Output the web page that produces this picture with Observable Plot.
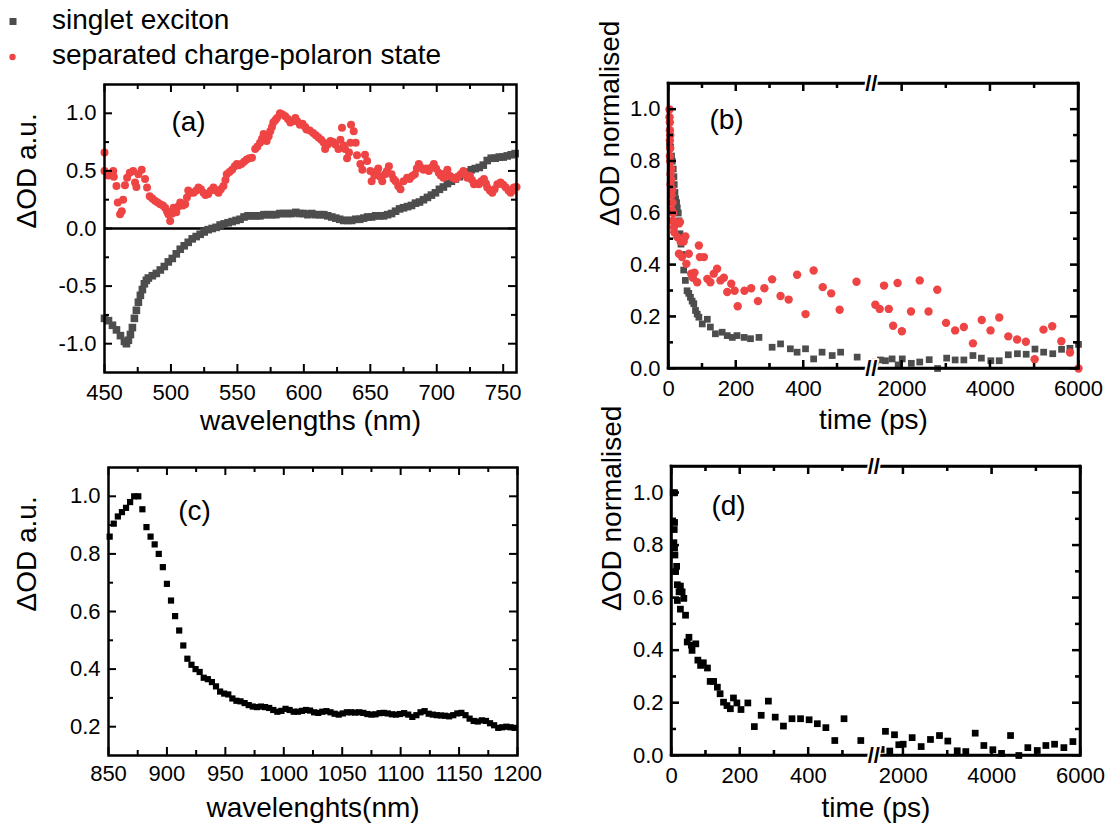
<!DOCTYPE html>
<html><head><meta charset="utf-8">
<script src="https://cdn.jsdelivr.net/npm/d3@7"></script>
<script src="https://cdn.jsdelivr.net/npm/@observablehq/plot@0.6"></script>
<style>
body{margin:0;background:#fff;font-family:"Liberation Sans",Arial,sans-serif;}
#fig{position:relative;width:1110px;height:825px;overflow:hidden;background:#fff;}
#legend{position:absolute;left:0;top:0;z-index:5;}
</style></head><body><div id="fig"></div>
<script>
// ---------- DATA ----------
// (a) singlet exciton spectrum [wavelength nm, ΔOD]
const excitonA = [[450,-0.78],[453,-0.80],[456,-0.84],[459,-0.88],[462,-0.93],[465,-0.98],[466.5,-1.0],[468,-0.97],[469.5,-0.92],[471,-0.86],[472.5,-0.78],[474,-0.71],[475.5,-0.64],[477,-0.58],[478.5,-0.53],[480,-0.48],[481.5,-0.45],[483,-0.43],[486,-0.41],[489,-0.39],[492,-0.36],[495,-0.33],[498,-0.29],[501,-0.26],[504,-0.22],[507,-0.18],[510,-0.15],[513,-0.12],[516,-0.09],[519,-0.07],[522,-0.05],[525,-0.03],[528,-0.01],[531,0.00],[534,0.01],[537,0.03],[540,0.04],[543,0.05],[546,0.06],[549,0.07],[552,0.08],[555,0.10],[558,0.11],[561,0.11],[564,0.11],[567,0.11],[570,0.12],[573,0.12],[576,0.12],[579,0.12],[582,0.13],[585,0.13],[588,0.13],[591,0.13],[594,0.14],[597,0.13],[600,0.13],[603,0.12],[606,0.13],[609,0.12],[612,0.12],[615,0.12],[618,0.11],[621,0.10],[624,0.09],[627,0.08],[630,0.07],[633,0.07],[636,0.07],[639,0.08],[642,0.08],[645,0.09],[648,0.10],[651,0.10],[654,0.11],[657,0.11],[660,0.11],[663,0.12],[666,0.13],[669,0.15],[672,0.17],[675,0.18],[678,0.19],[681,0.20],[684,0.22],[687,0.23],[690,0.25],[693,0.27],[696,0.29],[699,0.31],[702,0.34],[705,0.36],[708,0.39],[711,0.41],[714,0.43],[717,0.45],[720,0.47],[723,0.49],[726,0.51],[729,0.52],[732,0.53],[735,0.55],[738,0.59],[741,0.61],[744,0.61],[747,0.62],[750,0.62],[753,0.63],[756,0.64],[759,0.65]];

// (a) separated charge-polaron state spectrum
const polaronA = [[450,0.66],[450,0.50],[453,0.46],[455,0.48],[456.6,0.50],[457,0.45],[459,0.37],[460,0.225],[461.7,0.124],[463,0.15],[464,0.25],[465.4,0.375],[467,0.44],[469,0.485],[471.6,0.50],[473,0.40],[474,0.36],[475.5,0.47],[478,0.51],[480.5,0.43],[482,0.355],[484,0.28],[486,0.26],[488,0.24],[490,0.225],[492,0.21],[494,0.20],[495.6,0.18],[497,0.15],[498,0.124],[499.4,0.066],[501,0.13],[502,0.18],[504,0.14],[505.5,0.19],[507,0.225],[509,0.20],[510.7,0.21],[512,0.27],[513,0.33],[515,0.31],[517,0.31],[519,0.33],[520.7,0.355],[522.5,0.34],[524.5,0.31],[526,0.29],[528,0.30],[530,0.33],[532,0.355],[534,0.33],[535.8,0.31],[537.5,0.34],[539.5,0.37],[541,0.42],[542,0.47],[544,0.49],[546,0.51],[548,0.54],[549.6,0.56],[551,0.55],[553,0.56],[555,0.58],[557,0.60],[559,0.61],[561,0.615],[563.4,0.69],[565,0.71],[567,0.745],[568.5,0.78],[569.7,0.82],[571,0.79],[572,0.76],[573.5,0.80],[574.7,0.845],[576,0.88],[577,0.92],[578.5,0.94],[579.8,0.96],[582,1.0],[584,0.99],[586,0.975],[588,0.95],[589.8,0.92],[591.5,0.93],[593.6,0.96],[595,0.93],[597,0.90],[599,0.91],[601,0.88],[602,0.86],[604.5,0.85],[607,0.83],[609,0.81],[611,0.79],[613,0.77],[615,0.745],[616,0.69],[618,0.73],[620,0.76],[622,0.75],[623.7,0.73],[626,0.69],[627.5,0.77],[628.7,0.875],[630,0.72],[631,0.69],[632.5,0.61],[634,0.66],[635,0.745],[635.5,0.90],[637.5,0.845],[639,0.745],[640,0.635],[642.5,0.56],[644,0.51],[646,0.64],[647.6,0.585],[650,0.50],[651,0.41],[653,0.46],[655,0.50],[656,0.52],[657.5,0.45],[659,0.41],[661,0.47],[662.5,0.50],[664,0.54],[666,0.47],[667.5,0.43],[669,0.41],[671,0.37],[672.7,0.34],[675,0.41],[677.7,0.44],[679.5,0.43],[681.5,0.455],[683.5,0.47],[685,0.52],[686.5,0.56],[688,0.53],[690,0.51],[692,0.52],[694,0.50],[696,0.53],[697.8,0.56],[699.5,0.52],[701.5,0.485],[703,0.46],[705,0.44],[706.5,0.48],[708,0.51],[710,0.455],[712,0.44],[714,0.43],[716,0.45],[718,0.47],[720,0.50],[721.5,0.47],[723,0.44],[725,0.455],[726.5,0.42],[728,0.385],[730,0.39],[731.7,0.385],[733.5,0.41],[735.5,0.43],[737,0.39],[738,0.355],[740,0.33],[741.8,0.31],[743.5,0.34],[745.6,0.385],[748,0.40],[750,0.38],[752,0.355],[754,0.33],[755.6,0.31],[757,0.33],[758,0.355],[760,0.36]];

// (b) kinetics [time ps, ΔOD normalised]
const excitonB = [[3,0.87],[6,0.855],[9,0.82],[11,0.80],[14,0.77],[16,0.74],[17,0.71],[19,0.68],[21,0.655],[24,0.64],[26,0.62],[29,0.60],[31,0.57],[34,0.52],[37,0.48],[40,0.44],[45,0.38],[50,0.34],[55,0.30],[60,0.29],[65,0.275],[70,0.26],[75,0.25],[80,0.224],[85,0.21],[90,0.198],[100,0.172],[115,0.19],[124,0.16],[139,0.134],[159,0.14],[174,0.127],[189,0.12],[203,0.127],[224,0.12],[243,0.115],[268,0.12],[307,0.082],[332,0.095],[361,0.076],[381,0.063],[406,0.076],[430,0.037],[455,0.063],[485,0.05],[510,0.063],[559,0.044],[1398,0.025],[1513,0.033],[1627,0.03],[1778,0.037],[1915,0.014],[2008,0.037],[2213,0.02],[2404,0.025],[2618,0.034],[2808,0.0],[3014,0.04],[3206,0.033],[3403,0.033],[3609,0.05],[3800,0.04],[4014,0.03],[4204,0.03],[4410,0.053],[4616,0.057],[4815,0.055],[5014,0.075],[5211,0.063],[5417,0.057],[5616,0.074],[5806,0.078],[6000,0.093]];
const polaronB = [[3,1.0],[3,0.97],[4,0.95],[4,0.92],[5,0.90],[4,0.88],[5,0.85],[4,0.82],[5,0.80],[8,0.77],[6,0.75],[8,0.73],[6,0.71],[11,0.69],[9,0.67],[12,0.64],[10,0.61],[14,0.60],[12,0.57],[16,0.545],[17,0.526],[21,0.565],[26,0.507],[31,0.56],[34,0.565],[36,0.49],[31,0.443],[40,0.43],[45,0.49],[50,0.51],[53,0.404],[60,0.443],[67,0.366],[72,0.35],[77,0.37],[85,0.333],[90,0.475],[93,0.43],[105,0.43],[115,0.346],[124,0.333],[134,0.366],[144,0.385],[154,0.34],[164,0.35],[174,0.295],[186,0.327],[196,0.30],[205,0.24],[225,0.30],[245,0.31],[265,0.26],[284,0.31],[307,0.344],[332,0.28],[356,0.266],[381,0.362],[406,0.21],[430,0.378],[457,0.314],[482,0.29],[507,0.227],[557,0.335],[1398,0.246],[1497,0.23],[1595,0.32],[1703,0.23],[1801,0.165],[1902,0.33],[2000,0.144],[2206,0.22],[2404,0.34],[2603,0.22],[2801,0.304],[3000,0.176],[3206,0.147],[3403,0.16],[3609,0.097],[3808,0.187],[4007,0.147],[4204,0.197],[4410,0.124],[4609,0.112],[4808,0.103],[5007,0.036],[5206,0.15],[5405,0.163],[5611,0.105],[5808,0.062],[6000,0.0]];

// (c) NIR spectrum [wavelength nm, ΔOD]
const spectrumC = [[851,0.86],[854.5,0.905],[858,0.93],[861.5,0.945],[865,0.96],[868.5,0.98],[872,1.0],[875.5,1.0],[879,0.955],[882.5,0.893],[886,0.86],[889.5,0.833],[893,0.80],[896.5,0.754],[900,0.696],[903.5,0.638],[907,0.584],[910.5,0.534],[914,0.482],[917.5,0.436],[921,0.415],[924.5,0.40],[928,0.39],[931.5,0.37],[935,0.365],[938.5,0.355],[942,0.34],[945.5,0.322],[949,0.315],[952.5,0.312],[956,0.298],[959.5,0.29],[963,0.288],[966.5,0.282],[970,0.275],[973.5,0.27],[977,0.268],[980.5,0.27],[984,0.268],[987.5,0.265],[991,0.258],[994.5,0.252],[998,0.255],[1001.5,0.262],[1005,0.258],[1008.5,0.252],[1012,0.252],[1015.5,0.255],[1019,0.258],[1022.5,0.256],[1026,0.25],[1029.5,0.248],[1033,0.252],[1036.5,0.254],[1040,0.25],[1043.5,0.245],[1047,0.242],[1050.5,0.246],[1054,0.25],[1057.5,0.25],[1061,0.249],[1064.5,0.25],[1068,0.248],[1071.5,0.244],[1075,0.242],[1078.5,0.243],[1082,0.247],[1085.5,0.248],[1089,0.246],[1092.5,0.243],[1096,0.242],[1099.5,0.244],[1103,0.247],[1106.5,0.242],[1110,0.234],[1113.5,0.24],[1117,0.25],[1120.5,0.254],[1124,0.245],[1127.5,0.242],[1131,0.24],[1134.5,0.239],[1138,0.238],[1141.5,0.236],[1145,0.24],[1148.5,0.246],[1152,0.248],[1155.5,0.24],[1159,0.228],[1162.5,0.22],[1166,0.218],[1169.5,0.222],[1173,0.22],[1176.5,0.212],[1180,0.205],[1183.5,0.196],[1187,0.198],[1190.5,0.2],[1194,0.198],[1197.5,0.196]];

// (d) NIR kinetics [time ps, ΔOD normalised]
const kineticsD = [[5,1.0],[9,1.0],[9,0.887],[8,0.86],[7,0.81],[9,0.79],[10,0.763],[15,0.72],[12,0.70],[17,0.65],[26,0.645],[22,0.623],[31,0.623],[17,0.59],[36,0.598],[26,0.557],[41,0.534],[51,0.45],[46,0.432],[58,0.42],[60,0.40],[71,0.425],[77,0.363],[85,0.343],[93,0.353],[105,0.333],[113,0.282],[123,0.282],[134,0.26],[142,0.235],[152,0.203],[162,0.19],[172,0.178],[181,0.219],[191,0.20],[203,0.175],[223,0.20],[242,0.11],[262,0.153],[283,0.207],[303,0.146],[327,0.112],[352,0.14],[377,0.14],[402,0.136],[426,0.121],[451,0.106],[477,0.057],[504,0.14],[553,0.057],[1503,0.023],[1600,0.092],[1698,0.017],[1804,0.079],[1901,0.041],[2000,0.043],[2203,0.068],[2406,0.034],[2616,0.061],[2819,0.076],[3007,0.055],[3219,0.018],[3413,0.015],[3625,0.085],[3820,0.038],[4023,0.022],[4219,0.008],[4422,0.076],[4609,0.0],[4812,0.03],[5025,0.019],[5219,0.038],[5415,0.043],[5625,0.03],[5829,0.053]];

// ticks
const xMajorA = [450,500,550,600,650,700,750];
const xMinorA = [475,525,575,625,675,725];
const yMajorA = [-1,-0.5,0,0.5,1];
const yMinorA = [-0.75,-0.25,0.25,0.75];
const xMajorT = [0,200,400,2000,4000,6000];
const xMinorT = [100,300,500,3000,5000];
const yMajorT = [0,0.2,0.4,0.6,0.8,1.0];
const yMinorT = [0.1,0.3,0.5,0.7,0.9];
const xMajorC = [850,900,950,1000,1050,1100,1150,1200];
const xMinorC = [875,925,975,1025,1075,1125,1175];
const yMajorC = [0.2,0.4,0.6,0.8,1.0];
const yMinorC = [0.3,0.5,0.7,0.9];

const legendItems = ["singlet exciton", "separated charge-polaron state"];
const GRAY = "#4d4d4d", RED = "#ef4444", BLACK = "#000000";
const FONT = "Liberation Sans, Arial, Helvetica, sans-serif";

// broken time axis: [0, lo] at full scale, [hi, 6000] compressed by "squeeze"
function brokenAxis(lo, hi, squeeze) {
  return t => (t <= lo ? t : lo + (t - hi) * squeeze);
}
const mapB = brokenAxis(600, 1300, 0.1308);
const mapD = brokenAxis(590, 1330, 0.1295);

// ---------- DRAW ----------
function makePlot(p) {
  const W = p.width - p.mL - p.mR, H = p.height - p.mT - p.mB;
  const xm = p.xMap || (v => v);
  const TL = 8, tl = 5;
  const ts = {stroke: "black", strokeWidth: 2};
  const marks = [];
  if (p.zeroLine) marks.push(Plot.ruleY([0], {stroke: "black", strokeWidth: 2.5}));
  for (const s of p.series) {
    marks.push(Plot.dot(s.data, {x: d => xm(d[0]), y: d => d[1], symbol: s.symbol, r: s.r, fill: s.color}));
  }
  marks.push(Plot.frame({stroke: "black", strokeWidth: 2.5}));
  for (const [arr, L] of [[p.xMajor, TL], [p.xMinor, tl]]) {
    marks.push(Plot.tickX(arr, {x: d => xm(d), insetTop: H - L, ...ts}));
    marks.push(Plot.tickX(arr, {x: d => xm(d), insetBottom: H - L, ...ts}));
  }
  for (const [arr, L] of [[p.yMajor, TL], [p.yMinor, tl]]) {
    marks.push(Plot.tickY(arr, {y: d => d, insetRight: W - L, ...ts}));
    marks.push(Plot.tickY(arr, {y: d => d, insetLeft: W - L, ...ts}));
  }
  if (p.solid) {
    // same frame and inward ticks, drawn as filled bars
    const [X0, X1] = p.xDomain, [Y0, Y1] = p.yDomain;
    marks.push(Plot.rect([
      {a: X0, b: X1, c: Y0, d: Y0}, {a: X0, b: X1, c: Y1, d: Y1},
      {a: X0, b: X0, c: Y0, d: Y1}, {a: X1, b: X1, c: Y0, d: Y1}
    ], {x1: "a", x2: "b", y1: "c", y2: "d", insetTop: -1.25, insetBottom: -1.25, insetLeft: -1.25, insetRight: -1.25, fill: "black"}));
    for (const [arr, L] of [[p.xMajor, TL], [p.xMinor, tl]]) {
      const dat = arr.map(v => ({a: xm(v)}));
      marks.push(Plot.rect(dat, {x1: "a", x2: "a", y1: () => Y0, y2: () => Y0, insetLeft: -1, insetRight: -1, insetTop: -L, insetBottom: 0, fill: "black"}));
      marks.push(Plot.rect(dat, {x1: "a", x2: "a", y1: () => Y1, y2: () => Y1, insetLeft: -1, insetRight: -1, insetTop: 0, insetBottom: -L, fill: "black"}));
    }
    for (const [arr, L] of [[p.yMajor, TL], [p.yMinor, tl]]) {
      const dat = arr.map(v => ({a: v}));
      marks.push(Plot.rect(dat, {y1: "a", y2: "a", x1: () => X0, x2: () => X0, insetTop: -1, insetBottom: -1, insetLeft: 0, insetRight: -L, fill: "black"}));
      marks.push(Plot.rect(dat, {y1: "a", y2: "a", x1: () => X1, x2: () => X1, insetTop: -1, insetBottom: -1, insetLeft: -L, insetRight: 0, fill: "black"}));
    }
  }
  marks.push(Plot.text(p.xMajor, {x: d => xm(d), text: d => String(d), frameAnchor: "bottom", dy: p.xTickDy, fontSize: 22, lineAnchor: "middle", fill: "black"}));
  marks.push(Plot.text(p.yMajor, {y: d => d, text: d => d.toFixed(1), frameAnchor: "left", dx: -8, textAnchor: "end", fontSize: 22, lineAnchor: "middle", fill: "black"}));
  marks.push(Plot.text([p.xLabel], {text: d => d, frameAnchor: "bottom", dy: p.xLabelDy, fontSize: 28, lineAnchor: "middle", fill: "black"}));
  marks.push(Plot.text([p.yLabel], {text: d => d, frameAnchor: "left", dx: p.yLabelDx, rotate: -90, fontSize: 28, lineAnchor: "middle", fill: "black"}));
  marks.push(Plot.text([p.tag], {text: d => d, frameAnchor: "top-left", dx: p.tagDx, dy: p.tagDy, fontSize: 28, textAnchor: "middle", lineAnchor: "middle", fill: "black"}));
  if (p.breakAt !== undefined) {
    for (const fa of ["top", "bottom"]) {
      marks.push(Plot.text(["//"], {text: d => d, x: p.breakAt, frameAnchor: fa, fontSize: 22, fontWeight: "bold", fill: "black", stroke: "white", strokeWidth: 4, paintOrder: "stroke", lineAnchor: "middle"}));
    }
  }
  const svg = Plot.plot({
    width: p.width, height: p.height,
    marginLeft: p.mL, marginRight: p.mR, marginTop: p.mT, marginBottom: p.mB,
    x: {domain: p.xDomain, axis: null},
    y: {domain: p.yDomain, axis: null},
    style: {background: "transparent", fontFamily: FONT, overflow: "visible"},
    marks
  });
  svg.style.position = "absolute";
  svg.style.left = p.left + "px";
  svg.style.top = p.top + "px";
  return svg;
}

const fig = document.getElementById("fig");

fig.appendChild(makePlot({
  left: 0, top: 70, width: 555, height: 375, mL: 104, mR: 39, mT: 14, mB: 73,
  xDomain: [450, 760], yDomain: [-1.25, 1.25],
  xMajor: xMajorA, xMinor: xMinorA, yMajor: yMajorA, yMinor: yMinorA,
  xTickDy: 20, xLabelDy: 49, xLabel: "wavelengths (nm)", yLabel: "ΔOD a.u.", yLabelDx: -77,
  tag: "(a)", tagDx: 84, tagDy: 38, zeroLine: true,
  series: [
    {data: excitonA, symbol: "square", r: 4.3, color: GRAY},
    {data: polaronA, symbol: "circle", r: 4, color: RED}
  ]
}));

fig.appendChild(makePlot({
  left: 560, top: 70, width: 550, height: 375, mL: 108, mR: 32, mT: 13, mB: 77,
  xMap: mapB, xDomain: [0, mapB(6000)], yDomain: [0, 1.1], solid: true,
  xMajor: xMajorT, xMinor: xMinorT, yMajor: yMajorT, yMinor: yMinorT,
  xTickDy: 20, xLabelDy: 52, xLabel: "time (ps)", yLabel: "ΔOD normalised", yLabelDx: -58,
  tag: "(b)", tagDx: 58, tagDy: 37, breakAt: 601,
  series: [
    {data: excitonB, symbol: "square", r: 3.8, color: GRAY},
    {data: polaronB, symbol: "circle", r: 4.2, color: RED}
  ]
}));

fig.appendChild(makePlot({
  left: 0, top: 450, width: 555, height: 375, mL: 108, mR: 38, mT: 17, mB: 70,
  xDomain: [850, 1200], yDomain: [0.1, 1.1],
  xMajor: xMajorC, xMinor: xMinorC, yMajor: yMajorC, yMinor: yMinorC,
  xTickDy: 18, xLabelDy: 53, xLabel: "wavelenghts(nm)", yLabel: "ΔOD a.u.", yLabelDx: -81,
  tag: "(c)", tagDx: 86, tagDy: 44,
  series: [{data: spectrumC, symbol: "square", r: 3.5, color: BLACK}]
}));

fig.appendChild(makePlot({
  left: 560, top: 450, width: 550, height: 375, mL: 111, mR: 30, mT: 16, mB: 70,
  xMap: mapD, xDomain: [0, mapD(6000)], yDomain: [0, 1.1], solid: true,
  xMajor: xMajorT, xMinor: xMinorT, yMajor: yMajorT, yMinor: yMinorT,
  xTickDy: 20, xLabelDy: 53, xLabel: "time (ps)", yLabel: "ΔOD normalised", yLabelDx: -59,
  tag: "(d)", tagDx: 57, tagDy: 40, breakAt: 591,
  series: [{data: kineticsD, symbol: "square", r: 3.8, color: BLACK}]
}));

// legend
const ns = "http://www.w3.org/2000/svg";
const leg = document.createElementNS(ns, "svg");
leg.setAttribute("id", "legend");
leg.setAttribute("width", 470); leg.setAttribute("height", 80);
leg.style.fontFamily = FONT;
const sq = document.createElementNS(ns, "rect");
sq.setAttribute("x", 9.5); sq.setAttribute("y", 18); sq.setAttribute("width", 7); sq.setAttribute("height", 7); sq.setAttribute("fill", GRAY);
leg.appendChild(sq);
const ci = document.createElementNS(ns, "circle");
ci.setAttribute("cx", 12.5); ci.setAttribute("cy", 57); ci.setAttribute("r", 3.2); ci.setAttribute("fill", RED);
leg.appendChild(ci);
legendItems.forEach((t, i) => {
  const tx = document.createElementNS(ns, "text");
  tx.setAttribute("x", 52); tx.setAttribute("y", i === 0 ? 29 : 64);
  tx.setAttribute("font-size", 28); tx.setAttribute("fill", "black");
  tx.textContent = t;
  leg.appendChild(tx);
});
fig.appendChild(leg);
</script>
</body></html>
